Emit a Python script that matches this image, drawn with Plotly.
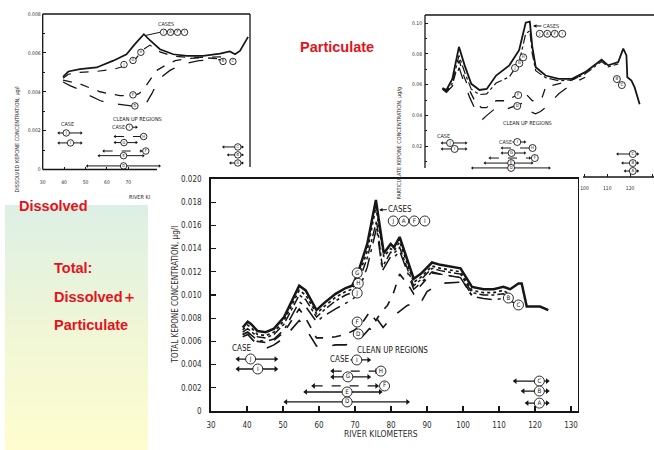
import plotly.graph_objects as go

# ======================= DATA =======================
# axis ticks
x_ticks_main = [30, 40, 50, 60, 70, 80, 90, 100, 110, 120, 130]
y_ticks_main = [0, 0.002, 0.004, 0.006, 0.008, 0.010, 0.012, 0.014, 0.016, 0.018, 0.020]
y_labels_main = ["0", "0.002", "0.004", "0.006", "0.008", "0.010", "0.012", "0.014", "0.016", "0.018", "0.020"]
x_ticks_dis = [30, 40, 50, 60, 70]
y_ticks_dis = [0, 0.002, 0.004, 0.006, 0.008]
y_labels_dis = ["0", "0.002", "0.004", "0.006", "0.008"]
x_ticks_par = [100, 110, 120, 130]
y_ticks_par = [0.02, 0.04, 0.06, 0.08, 0.10]
y_labels_par = ["0.02", "0.04", "0.06", "0.08", "0.10"]

# ---- Total Kepone concentration (ug/l) vs river km ----
tot_km_top = [38.8, 40.2, 41.1, 42.9, 45.2, 47.5, 50.3, 54.5, 56.3, 59.3, 61.4, 64.6, 67.4, 69.2, 70.6, 73.4, 75.8, 77.1, 78.0, 79.9,
              80.8, 82.4, 84.5, 86.3, 88.2, 91.4, 93.7, 99.3, 102.5, 105.7, 108.5, 111.2, 113.1, 115.4, 116.3, 117.3, 117.7, 121.4, 123.7]
tot_top = [0.0072, 0.0077, 0.0075, 0.0069, 0.0068, 0.0071, 0.0081, 0.0108, 0.0104, 0.0087, 0.0093, 0.0101, 0.0106, 0.0108, 0.0117, 0.0144, 0.0182, 0.0156, 0.0136, 0.0144,
           0.0141, 0.0150, 0.0130, 0.0114, 0.0118, 0.0128, 0.0126, 0.0123, 0.0107, 0.0105, 0.0105, 0.0107, 0.0105, 0.0110, 0.0110, 0.0094, 0.0090, 0.0090, 0.0087]
tot_km_h = [38.8, 40.2, 41.1, 42.9, 45.2, 47.5, 50.3, 54.5, 56.3, 59.3, 61.4, 64.6, 67.4, 69.2, 70.6, 73.4, 75.8, 77.1, 78.0, 79.9,
            80.8, 82.4, 84.5, 86.3, 88.2, 91.4, 93.7, 99.3, 102.5, 105.7, 108.5, 111.2, 113.1]
tot_h = [0.0070, 0.0074, 0.0072, 0.0066, 0.0065, 0.0068, 0.0078, 0.0104, 0.0100, 0.0084, 0.0090, 0.0098, 0.0103, 0.0105, 0.0112, 0.0138, 0.0176, 0.0150, 0.0133, 0.0140,
         0.0138, 0.0146, 0.0127, 0.0111, 0.0115, 0.0125, 0.0123, 0.0120, 0.0104, 0.0102, 0.0102, 0.0104, 0.0100]
tot_km_g = [38.8, 40.2, 42.9, 45.2, 47.5, 50.3, 54.5, 56.3, 59.3, 61.4, 64.6, 67.4, 69.2, 70.6, 73.4, 76.0, 77.6, 79.9, 80.8, 82.4,
            84.5, 86.3, 88.2, 91.4, 93.7, 99.3, 102.5, 105.7, 108.5, 111.2, 113.5]
tot_g = [0.0068, 0.0071, 0.0064, 0.0063, 0.0066, 0.0075, 0.0100, 0.0096, 0.0081, 0.0087, 0.0095, 0.0100, 0.0102, 0.0108, 0.0132, 0.0164, 0.0124, 0.0137, 0.0136, 0.0141,
         0.0123, 0.0108, 0.0113, 0.0123, 0.0121, 0.0118, 0.0102, 0.0100, 0.0100, 0.0101, 0.0097]
tot_km_j = [38.8, 40.2, 42.9, 45.2, 47.5, 50.3, 54.5, 56.3, 59.3, 61.4, 64.6, 67.4, 69.2, 70.6, 73.4, 76.0, 77.6, 79.9, 80.8, 82.4,
            84.5, 86.3, 88.2, 91.4, 93.7, 99.3, 102.5, 105.7, 108.5, 111.2, 114.5]
tot_j = [0.0066, 0.0068, 0.0061, 0.0060, 0.0062, 0.0070, 0.0094, 0.0090, 0.0077, 0.0082, 0.0088, 0.0093, 0.0096, 0.0100, 0.0124, 0.0158, 0.0121, 0.0133, 0.0132, 0.0138,
         0.0120, 0.0105, 0.0110, 0.0120, 0.0118, 0.0115, 0.0099, 0.0097, 0.0096, 0.0097, 0.0093]
tot_km_f = [38.8, 40.2, 42.9, 45.2, 47.5, 50.3, 54.5, 56.3, 59.3, 61.4, 64.6, 67.4, 70.0, 72.0, 74.0, 75.8, 77.2, 79.0, 80.5, 82.4,
            84.5, 86.3, 88.2, 91.4, 93.7, 99.3, 102.5]
tot_f = [0.0066, 0.0068, 0.0060, 0.0059, 0.0061, 0.0068, 0.0088, 0.0080, 0.0063, 0.0063, 0.0064, 0.0066, 0.0070, 0.0076, 0.0085, 0.0078, 0.0085, 0.0091, 0.0100, 0.0118,
         0.0110, 0.0101, 0.0108, 0.0119, 0.0118, 0.0115, 0.0100]
tot_km_d = [38.8, 40.2, 42.9, 45.2, 47.5, 50.3, 54.5, 56.3, 59.3, 61.4, 64.6, 67.4, 70.0, 72.0, 74.0, 75.0, 76.2, 77.8, 80.0, 82.4,
            84.5, 86.3, 88.0, 90.0, 93.7, 99.3, 102.5]
tot_d = [0.0064, 0.0066, 0.0057, 0.0054, 0.0057, 0.0063, 0.0078, 0.0071, 0.0056, 0.0055, 0.0057, 0.0057, 0.0059, 0.0064, 0.0071, 0.0069, 0.0079, 0.0072, 0.0080, 0.0086,
         0.0091, 0.0093, 0.0092, 0.0103, 0.0110, 0.0111, 0.0100]

# ---- Dissolved Kepone concentration (ug/l) ----
dis_km_top = [39.5, 42.0, 47.4, 55.2, 63.0, 69.2, 73.1, 77.3, 80.1, 84.8, 91.0, 97.3, 105.0, 112.9, 117.5, 119.9, 122.2, 126.0]
dis_top = [0.00477, 0.00504, 0.00516, 0.00525, 0.00560, 0.00593, 0.00645, 0.00696, 0.00665, 0.00619, 0.00593, 0.00585, 0.00585, 0.00596, 0.00607, 0.00593, 0.00610, 0.00682]
dis_km_g = [39.5, 42.0, 47.4, 55.2, 63.0, 69.2, 73.1, 77.3, 80.1, 84.8, 91.0, 97.3, 105.0, 112.9, 117.0]
dis_g = [0.00470, 0.00490, 0.00500, 0.00505, 0.00515, 0.00535, 0.00565, 0.00620, 0.00640, 0.00605, 0.00583, 0.00577, 0.00577, 0.00580, 0.00565]
dis_km_f = [39.5, 43.0, 47.4, 52.0, 56.8, 61.0, 66.1, 72.3, 75.0, 77.0, 80.0, 83.3, 88.0, 92.0, 97.0, 105.0, 113.0]
dis_f = [0.00460, 0.00450, 0.00440, 0.00420, 0.00400, 0.00390, 0.00380, 0.00380, 0.00390, 0.00410, 0.00460, 0.00510, 0.00540, 0.00560, 0.00570, 0.00575, 0.00570]
dis_km_d = [39.5, 43.0, 47.4, 52.0, 56.8, 61.0, 66.0, 70.0, 73.9, 76.0, 78.6, 81.0, 83.3, 86.0, 89.5, 95.0, 103.0, 113.0]
dis_d = [0.00450, 0.00430, 0.00410, 0.00380, 0.00355, 0.00340, 0.00335, 0.00330, 0.00323, 0.00330, 0.00345, 0.00390, 0.00440, 0.00480, 0.00510, 0.00540, 0.00560, 0.00565]

# ---- Particulate Kepone concentration (ug/g) ----
par_km_top = [37.7, 39.4, 42.0, 44.9, 47.4, 50.3, 53.9, 57.1, 61.2, 67.0, 71.3, 74.2, 76.0, 77.1, 78.6, 82.9, 88.7, 94.5, 100.3, 107.5,
              110.4, 114.8, 117.0, 118.4, 118.8, 120.6, 122.0, 124.2]
par_top = [0.0578, 0.0565, 0.0637, 0.0845, 0.0725, 0.0605, 0.0565, 0.0572, 0.0659, 0.0725, 0.0823, 0.1002, 0.1009, 0.0845, 0.0713, 0.0659, 0.0637, 0.0637, 0.0681, 0.0762,
           0.0725, 0.0746, 0.0834, 0.0790, 0.0648, 0.0626, 0.0582, 0.0473]
par_km_g = [37.7, 39.4, 42.0, 44.9, 47.4, 50.3, 53.9, 57.1, 61.2, 67.0, 71.3, 74.2, 76.0, 77.1, 78.6, 82.9, 88.7, 94.5, 100.3, 107.5, 110.4, 114.8]
par_g = [0.0570, 0.0555, 0.0610, 0.0790, 0.0680, 0.0570, 0.0535, 0.0540, 0.0610, 0.0650, 0.0745, 0.0930, 0.0950, 0.0800, 0.0690, 0.0645, 0.0625, 0.0630, 0.0670, 0.0750, 0.0715, 0.0735]
par_km_f = [37.7, 39.4, 42.0, 45.0, 47.2, 49.6, 52.0, 54.7, 56.9, 61.2, 65.5, 69.9, 73.5, 75.0, 77.1, 79.2, 81.5, 82.9, 88.7, 94.5, 100.3]
par_f = [0.0575, 0.0555, 0.0600, 0.0757, 0.0650, 0.0560, 0.0490, 0.0451, 0.0450, 0.0495, 0.0495, 0.0528, 0.0556, 0.0528, 0.0495, 0.0500, 0.0520, 0.0582, 0.0605, 0.0630, 0.0670]
par_km_d = [37.7, 39.4, 42.0, 45.0, 47.2, 49.6, 52.0, 55.3, 56.9, 61.2, 65.5, 69.9, 73.5, 75.6, 78.5, 80.7, 82.9, 88.7, 94.5, 100.3]
par_d = [0.0570, 0.0550, 0.0590, 0.0710, 0.0610, 0.0517, 0.0440, 0.0375, 0.0397, 0.0450, 0.0440, 0.0462, 0.0484, 0.0430, 0.0410, 0.0425, 0.0451, 0.0540, 0.0605, 0.0648]

# ---- clean-up regions (river km) ----
region_labels = ["J", "I", "I", "H", "G", "F", "E", "D", "C", "B", "A"]
region_is_case = [False, False, True, False, False, False, False, False, False, False, False]
region_start_km = [37.5, 37.5, 63.8, 63.8, 63.8, 58.5, 56.3, 50.8, 114.5, 116.7, 117.8]
region_end_km = [48.0, 48.0, 73.8, 76.0, 73.8, 76.0, 77.0, 84.6, 123.4, 123.4, 123.4]
case_letters = ["J", "A", "F", "I"]

# ======================= STYLE / LAYOUT =======================
W, H = 654, 450
INK = "#161616"
TICKC = "#2c2c2c"
FONT = "DejaVu Sans Condensed, DejaVu Sans, sans-serif"
RED = "#e3131b"
RFONT = "Liberation Sans, Arial, sans-serif"


def PX(x):
    return x / W


def PY(y):
    return 1 - y / H


row_dash = ["solid", "solid", "solid", "dash", "solid", "dash", "solid", "solid", "solid", "solid", "solid"]
label_at_km = [41.0, 43.0, 70.5, 77.2, 68.0, 78.2, 67.8, 67.8, 121.2, 121.2, 121.2]
rows_main = [0.224, 0.181, 0.220, 0.172, 0.147, 0.108, 0.082, 0.039, 0.129, 0.086, 0.034]
rows_dis = [0.235, 0.171, 0.272, 0.212, 0.173, 0.119, 0.089, 0.023, 0.145, 0.094, 0.042]
rows_par = [0.210, 0.173, 0.216, 0.179, 0.148, 0.117, 0.086, 0.056, 0.142, 0.086, 0.037]

fig = go.Figure()

# gradient side panel
stops = [(205, (221, 240, 229)), (330, (240, 246, 214)), (450, (255, 253, 208))]
step = 5
yy = 205
while yy < 450:
    ym = yy + step / 2
    for (ya, ca), (yb, cb) in zip(stops[:-1], stops[1:]):
        if ya <= ym <= yb:
            t = (ym - ya) / (yb - ya)
            col = tuple(int(round(ca[k] + (cb[k] - ca[k]) * t)) for k in range(3))
    fig.add_shape(type="rect", xref="paper", yref="paper", x0=PX(5), x1=PX(148),
                  y0=PY(min(yy + step + 0.5, 450)), y1=PY(yy), fillcolor="rgb(%d,%d,%d)" % col,
                  line_width=0, layer="below")
    yy += step


def draw_chart(xn, yn, ymax, kmpx, curves, rows, csz, fs_t, arr, bar_w, case_at, clean_at,
               cases_txt, cases_circ, curve_labels):
    """kmpx = pixels per river km on this chart (for circle spacing)."""
    for km, vals, dash, w in curves:
        fig.add_trace(go.Scatter(x=km, y=vals, mode="lines", line=dict(color=INK, width=w, dash=dash),
                                 xaxis=xn, yaxis=yn, hoverinfo="skip"))
    cx, cy, ct = [], [], []
    for i, lab in enumerate(region_labels):
        yv = rows[i] * ymax
        fig.add_trace(go.Scatter(x=[region_start_km[i], region_end_km[i]], y=[yv, yv], mode="lines+markers",
                                 line=dict(color=INK, width=bar_w, dash=row_dash[i]),
                                 marker=dict(symbol=["triangle-left", "triangle-right"], size=arr, color=INK),
                                 xaxis=xn, yaxis=yn, hoverinfo="skip"))
        cx.append(label_at_km[i]); cy.append(yv); ct.append(lab)
        if region_is_case[i]:
            fig.add_annotation(xref=xn, yref=yn, x=label_at_km[i] - (csz / 2 + 0.5) / kmpx, y=yv, text="CASE",
                               xanchor="right", showarrow=False, bgcolor="white", borderpad=0,
                               font=dict(family=FONT, size=fs_t, color=INK))
    fig.add_annotation(xref=xn, yref=yn, x=case_at[0], y=case_at[1], text="CASE", showarrow=False,
                       font=dict(family=FONT, size=fs_t, color=INK))
    fig.add_annotation(xref=xn, yref=yn, x=clean_at[0], y=clean_at[1], text="CLEAN UP REGIONS", showarrow=False,
                       font=dict(family=FONT, size=fs_t, color=INK))
    # CASES label
    (tx, ty), head = cases_txt
    d = dict(xref=xn, yref=yn, text="CASES", font=dict(family=FONT, size=fs_t, color=INK))
    if head:
        d.update(x=head[0], y=head[1], ax=tx, ay=ty, axref=xn, ayref=yn, showarrow=True,
                 arrowhead=2, arrowsize=0.7, arrowwidth=1, arrowcolor=INK, standoff=0)
    else:
        d.update(x=tx, y=ty, showarrow=False)
    fig.add_annotation(**d)
    (ccx, ccy), head = cases_circ
    sp = (csz + 0.5) / kmpx
    for k, c in enumerate(case_letters):
        cx.append(ccx + (k - 1.5) * sp); cy.append(ccy); ct.append(c)
    if head:
        fig.add_trace(go.Scatter(x=[head[0], ccx - 2 * sp], y=[head[1], ccy], mode="lines",
                                 line=dict(color=INK, width=1), xaxis=xn, yaxis=yn, hoverinfo="skip"))
    for lab, kx, vy in curve_labels:
        cx.append(kx); cy.append(vy); ct.append(lab)
    fig.add_trace(go.Scatter(x=cx, y=cy, text=ct, mode="markers+text", textposition="middle center",
                             marker=dict(symbol="circle", size=csz, color="white", line=dict(color=INK, width=0.9)),
                             textfont=dict(family=FONT, size=csz * 0.62, color=INK),
                             xaxis=xn, yaxis=yn, hoverinfo="skip"))


# main (total)
draw_chart("x", "y", 0.020, 3.6,
           [(tot_km_d, tot_d, "longdash", 1.6), (tot_km_f, tot_f, "dash", 1.6), (tot_km_j, tot_j, "longdashdot", 1.5),
            (tot_km_g, tot_g, "dashdot", 1.5), (tot_km_h, tot_h, "dot", 1.7), (tot_km_top, tot_top, "solid", 2.5)],
           rows_main, 10, 8, 5, 1.3, (38.6, 0.0054), (80.5, 0.0052),
           ((82.6, 0.01741), (76.7, 0.01733)), ((85.0, 0.01638), None),
           [("G", 70.6, 0.0119), ("H", 70.9, 0.0110), ("J", 70.6, 0.01017), ("F", 70.6, 0.00767),
            ("D", 70.9, 0.00664), ("B", 112.6, 0.00974), ("C", 115.4, 0.00914)])

# dissolved
draw_chart("x2", "y2", 0.008, 2.14,
           [(dis_km_d, dis_d, "longdash", 1.3), (dis_km_f, dis_f, "dash", 1.3), (dis_km_g, dis_g, "dash", 1.2),
            (dis_km_top, dis_top, "solid", 1.7)],
           rows_dis, 6.5, 5.5, 3, 1.0, (41.4, 0.00236), (74.5, 0.0026),
           ((87.6, 0.00748), None), ((91.4, 0.00706), (78.3, 0.0069)),
           [("J", 68.0, 0.0054), ("G", 72.2, 0.00561), ("H", 75.9, 0.00603), ("F", 72.2, 0.00384),
            ("D", 73.1, 0.00327), ("B", 114.3, 0.00556), ("C", 118.9, 0.00556)])

# particulate
draw_chart("x3", "y3", 0.1052, 2.28,
           [(par_km_d, par_d, "longdash", 1.3), (par_km_f, par_f, "dash", 1.3), (par_km_g, par_g, "dashdot", 1.2),
            (par_km_top, par_top, "solid", 1.8)],
           rows_par, 7, 5.5, 3, 1.0, (38.2, 0.0266), (75.2, 0.0350),
           ((85.3, 0.098), (77.4, 0.0981)), ((85.3, 0.0930), None),
           [("J", 69.5, 0.0708), ("G", 71.4, 0.0738), ("H", 73.1, 0.0777), ("F", 70.9, 0.0532),
            ("D", 70.5, 0.0461), ("B", 114.2, 0.0636), ("C", 116.4, 0.0597)])

common = dict(showgrid=False, zeroline=False, ticks="inside", tickcolor=INK, automargin=False,
              fixedrange=True, tickmode="array")

fig.update_layout(
    template="none", width=W, height=H, margin=dict(l=0, r=0, t=0, b=0),
    paper_bgcolor="white", plot_bgcolor="rgba(0,0,0,0)", showlegend=False,
    xaxis=dict(common, domain=[PX(211), PX(577.5)], range=[30, 131.8], anchor="y",
               tickvals=x_ticks_main, ticktext=[str(v) for v in x_ticks_main],
               showline=True, mirror=True, linecolor=INK, linewidth=1.8, ticklen=5, tickwidth=1.2,
               tickfont=dict(family=FONT, size=8, color=TICKC), ticklabelstandoff=6),
    yaxis=dict(common, domain=[PY(411), PY(179)], range=[0, 0.020], anchor="x",
               tickvals=y_ticks_main, ticktext=y_labels_main,
               showline=True, mirror=True, linecolor=INK, linewidth=1.8, ticklen=5, tickwidth=1.2,
               tickfont=dict(family=FONT, size=8, color=TICKC), ticklabelstandoff=6),
    xaxis2=dict(common, domain=[PX(42.7), PX(250)], range=[30, 126.9], anchor="y2",
                tickvals=x_ticks_dis, ticktext=[str(v) for v in x_ticks_dis], showline=False,
                ticklen=3, tickwidth=1, tickfont=dict(family=FONT, size=5, color=TICKC), ticklabelstandoff=8),
    yaxis2=dict(common, domain=[PY(169.5), PY(14)], range=[0, 0.008], anchor="x2",
                tickvals=y_ticks_dis, ticktext=y_labels_dis, showline=False,
                ticklen=3, tickwidth=1, tickfont=dict(family=FONT, size=5, color=TICKC), ticklabelstandoff=1,
                minor=dict(ticks="inside", tickmode="linear", tick0=0, dtick=0.001, ticklen=2, tickcolor=INK)),
    xaxis3=dict(common, domain=[PX(425), 1.0], range=[30, 130.5], anchor="y3",
                tickvals=x_ticks_par, ticktext=[str(v) for v in x_ticks_par], showline=False,
                ticklen=3, tickwidth=1, tickfont=dict(family=FONT, size=5, color=TICKC), ticklabelstandoff=7),
    yaxis3=dict(common, domain=[PY(177), PY(15)], range=[0, 0.1052], anchor="x3",
                tickvals=y_ticks_par, ticktext=y_labels_par, showline=False,
                ticklen=3, tickwidth=1, tickfont=dict(family=FONT, size=5, color=TICKC), ticklabelstandoff=2,
                minor=dict(ticks="inside", tickmode="linear", tick0=0, dtick=0.01, ticklen=2, tickcolor=INK)),
)

# partial frames of the two small (cropped) charts
frames = [((42.7, 14), (250, 14)), ((250, 14), (250, 167)), ((42.7, 14), (42.7, 169.5)), ((42.7, 169.5), (157, 169.5)),
          ((425, 15), (425, 168)), ((425, 15), (654, 15)), ((583, 177), (654, 177))]
for (x0, y0), (x1, y1) in frames:
    fig.add_shape(type="line", xref="paper", yref="paper", x0=PX(x0), y0=PY(y0), x1=PX(x1), y1=PY(y1),
                  line=dict(color=INK, width=1.3))

# axis titles
fig.add_annotation(xref="paper", yref="paper", x=PX(168), y=PY(295), text="TOTAL KEPONE CONCENTRATION, µg/l",
                   textangle=-90, showarrow=False, font=dict(family=FONT, size=8, color=TICKC))
fig.add_annotation(xref="paper", yref="paper", x=PX(381), y=PY(441), text="RIVER KILOMETERS",
                   showarrow=False, font=dict(family=FONT, size=8.5, color=TICKC))
fig.add_annotation(xref="paper", yref="paper", x=PX(11), y=PY(85), text="DISSOLVED KEPONE CONCENTRATION, µg/l",
                   textangle=-90, showarrow=False, font=dict(family=FONT, size=5.5, color=TICKC))
fig.add_annotation(xref="paper", yref="paper", x=PX(127), y=PY(197), xanchor="left", text="RIVER KI",
                   showarrow=False, font=dict(family=FONT, size=5.5, color=TICKC))
fig.add_annotation(xref="paper", yref="paper", x=PX(399), y=PY(85), text="PARTICULATE KEPONE CONCENTRATION, µg/g",
                   textangle=-90, showarrow=False, font=dict(family=FONT, size=5.5, color=TICKC))

# red captions
for txt, x, y, anchor in [("Dissolved", 17, 206, "left"), ("Particulate", 337, 47, "center"),
                          ("Total:", 52, 268, "left"), ("Dissolved＋", 52, 297, "left"),
                          ("Particulate", 52, 325, "left")]:
    fig.add_annotation(xref="paper", yref="paper", x=PX(x), y=PY(y), xanchor=anchor, yanchor="middle",
                       text="<b>%s</b>" % txt, showarrow=False, font=dict(family=RFONT, size=14.5, color=RED))

fig.write_html("out.html", config={"displayModeBar": False, "staticPlot": True},
               post_script="document.body.style.margin='0px';document.body.style.overflow='hidden';")
